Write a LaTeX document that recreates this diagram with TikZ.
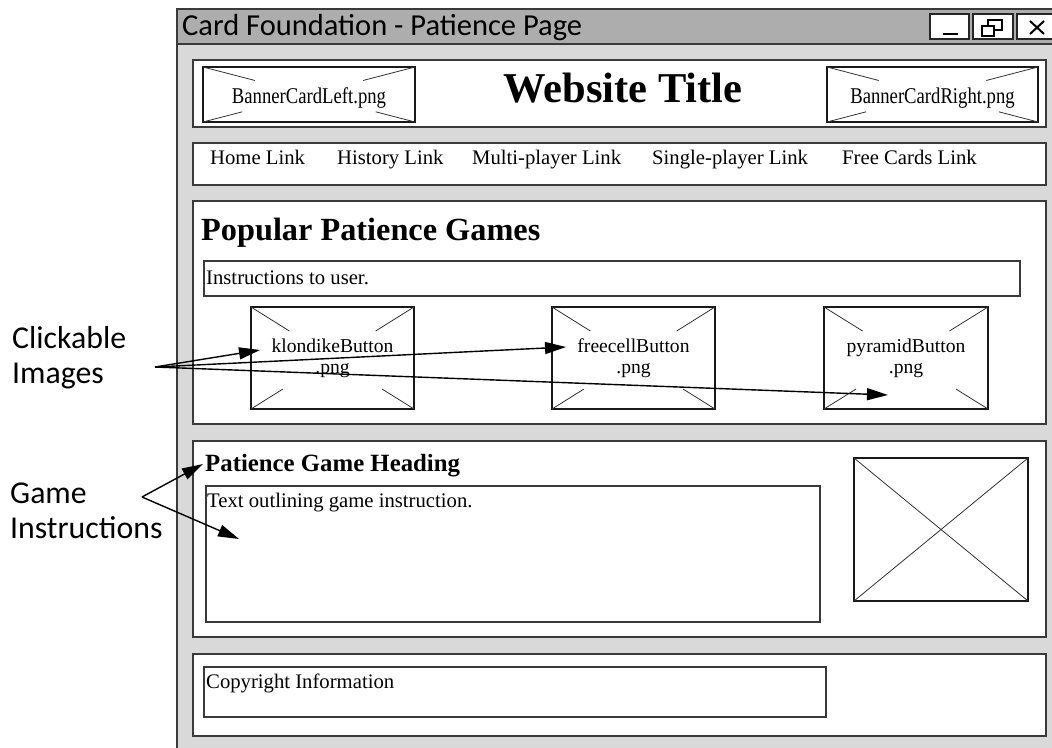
\documentclass[tikz,border=0pt]{standalone}
\usepackage{fontspec}
\usepackage{graphicx}
\setmainfont{Liberation Serif}
\newfontfamily\uisans{Carlito}
\usetikzlibrary{arrows.meta,calc,fit}
\definecolor{winbg}{HTML}{D9D9D9}
\definecolor{titlebg}{HTML}{ADADAD}
\definecolor{edge}{HTML}{3A3A3A}
\begin{document}
\begin{tikzpicture}[x=1pt,y=-1pt,
  panel/.style={draw=edge, line width=1.6pt, fill=white, inner sep=0pt, outer sep=0pt},
  imgbox/.style={draw=black!90, line width=1.8pt, fill=white, inner sep=0pt, outer sep=0pt},
  ctrlbox/.style={draw=black!85, line width=1.8pt, fill=white, inner sep=0pt, outer sep=0pt},
  txt/.style={inner sep=0pt, anchor=base west, font=\fontsize{20.7}{24}\selectfont},
  sidelabel/.style={inner sep=0pt, anchor=base west, font=\uisans\fontsize{31.8}{35}\selectfont},
  btnlabel/.style={inner sep=0pt, align=center, font=\fontsize{19.6}{21}\selectfont},
  bannerlabel/.style={inner sep=0pt, anchor=base},
  pointer/.style={line width=1.4pt, -{Triangle[length=21pt,width=12pt]}},
  xline/.style={line width=0.8pt, draw=black!80},
]
\path[use as bounding box] (0,0) rectangle (1052,747);
\clip (0,0) rectangle (1052,747);

% window
\node[fill=winbg, draw=edge, line width=1.5pt, inner sep=0pt, outer sep=0pt, fit={(177,9) (1062,770)}] (win) {};
\node[fill=titlebg, draw=edge, line width=1.5pt, inner sep=0pt, outer sep=0pt, fit={(177,9) (1062,44)}] (tbar) {};
\node[inner sep=0pt, anchor=base west, font=\uisans\fontsize{30.5}{35}\selectfont] (wtitle) at (182,35) {Card Foundation - Patience Page};

% window controls
\node[ctrlbox, fit={(930,14) (969,39)}] (cmin) {};
\node[ctrlbox, fit={(973,14) (1013,39)}] (cmax) {};
\node[ctrlbox, fit={(1017,14) (1058,39)}] (cclose) {};
\draw[line width=2pt] ($(cmin.south west)+(13,-5)$) -- ($(cmin.south east)+(-11,-5)$);
\draw[line width=1.6pt] (988,20) rectangle (1002,30);
\draw[line width=1.6pt, fill=white] (982,26) rectangle (994,36);
\draw[line width=2pt] (1030,21) -- (1044,34) (1044,21) -- (1030,34);

% banner panel
\node[panel, fit={(193,60) (1046,127)}] (banner) {};
\node[imgbox, fit={(203,67) (415,122)}] (bl) {};
\node[imgbox, fit={(827,67) (1038,122)}] (br) {};
\node[inner sep=0pt, anchor=base, font=\bfseries\fontsize{42.5}{48}\selectfont] (wsite) at (623,102) {Website Title};

% nav panel
\node[panel, fit={(193,143) (1046,185)}] (nav) {};
\node[txt] (l1) at (210,164) {Home Link};
\node[txt] (l2) at (337,164) {History Link};
\node[txt] (l3) at (472,164) {Multi-player Link};
\node[txt] (l4) at (652,164) {Single-player Link};
\node[txt] (l5) at (842,164) {Free Cards Link};

% popular panel
\node[panel, fit={(193,201) (1046,424)}] (pop) {};
\node[inner sep=0pt, anchor=base west, font=\bfseries\fontsize{32.3}{36}\selectfont] (poph) at (201,240) {Popular Patience Games};
\node[panel, line width=1.4pt, fit={(204,261) (1020,296)}] (instr) {};
\node[txt] (instrt) at (206,284) {Instructions to user.};
\node[imgbox, fit={(251,307) (414,409)}] (kb) {};
\node[imgbox, fit={(552,307) (715,409)}] (fb) {};
\node[imgbox, fit={(824,307) (988,409)}] (pb) {};

% game panel
\node[panel, fit={(193,441) (1046,637)}] (game) {};
\node[inner sep=0pt, anchor=base west, font=\bfseries\fontsize{24.8}{28}\selectfont] (gameh) at (205,471) {Patience Game Heading};
\node[panel, line width=1.4pt, fit={(206,486) (820,622)}] (gtext) {};
\node[txt] (gtextt) at (207,507) {Text outlining game instruction.};
\node[imgbox, fit={(854,458) (1028,601)}] (gimg) {};
\draw[xline] (gimg.north west) -- (gimg.south east) (gimg.north east) -- (gimg.south west);

% footer panel
\node[panel, fit={(193,654) (1046,736)}] (foot) {};
\node[panel, line width=1.4pt, fit={(204,667) (826,717)}] (copy) {};
\node[txt] (copyt) at (206,688) {Copyright Information};

% partial crosses in image placeholders
\foreach \bx/\ft/\fbt in {bl/0.49/0.37, br/0.49/0.37, kb/0.47/0.39, fb/0.47/0.39, pb/0.47/0.39}{
  \draw[xline] (\bx.north west) -- ($(\bx.north west)!\ft!(\bx.center)$);
  \draw[xline] (\bx.north east) -- ($(\bx.north east)!\ft!(\bx.center)$);
  \draw[xline] (\bx.south west) -- ($(\bx.south west)!\fbt!(\bx.center)$);
  \draw[xline] (\bx.south east) -- ($(\bx.south east)!\fbt!(\bx.center)$);
}

% banner labels
\node[bannerlabel] (blt) at (309,103) {\scalebox{0.83}[1]{\fontsize{22.5}{26}\selectfont BannerCardLeft.png}};
\node[bannerlabel] (brt) at (932.5,103) {\scalebox{0.83}[1]{\fontsize{22.5}{26}\selectfont BannerCardRight.png}};

% button labels
\node[btnlabel] (kbt) at (kb.center) {klondikeButton\\.png};
\node[btnlabel] (fbt) at (fb.center) {freecellButton\\.png};
\node[btnlabel] (pbt) at (pb.center) {pyramidButton\\.png};

% callout labels
\node[sidelabel] (ci1) at (12,348) {Clickable};
\node[sidelabel] (ci2) at (12,383) {Images};
\node[sidelabel] (gi1) at (10,503) {Game};
\node[sidelabel] (gi2) at (10,538) {Instructions};

\coordinate (ciO) at (155,367);
\coordinate (kT) at (260,350);
\coordinate (fT) at (566,347);
\coordinate (pT) at (888,395);
\coordinate (giO) at (142,497);
\coordinate (hT) at (203,464);
\coordinate (tT) at (239,539);

\draw[pointer] (ciO) -- (kT);
\draw[pointer] (ciO) -- (fT);
\draw[pointer] (ciO) -- (pT);
\draw[pointer] (giO) -- (hT);
\draw[pointer] (giO) -- (tT);
\end{tikzpicture}
\end{document}
